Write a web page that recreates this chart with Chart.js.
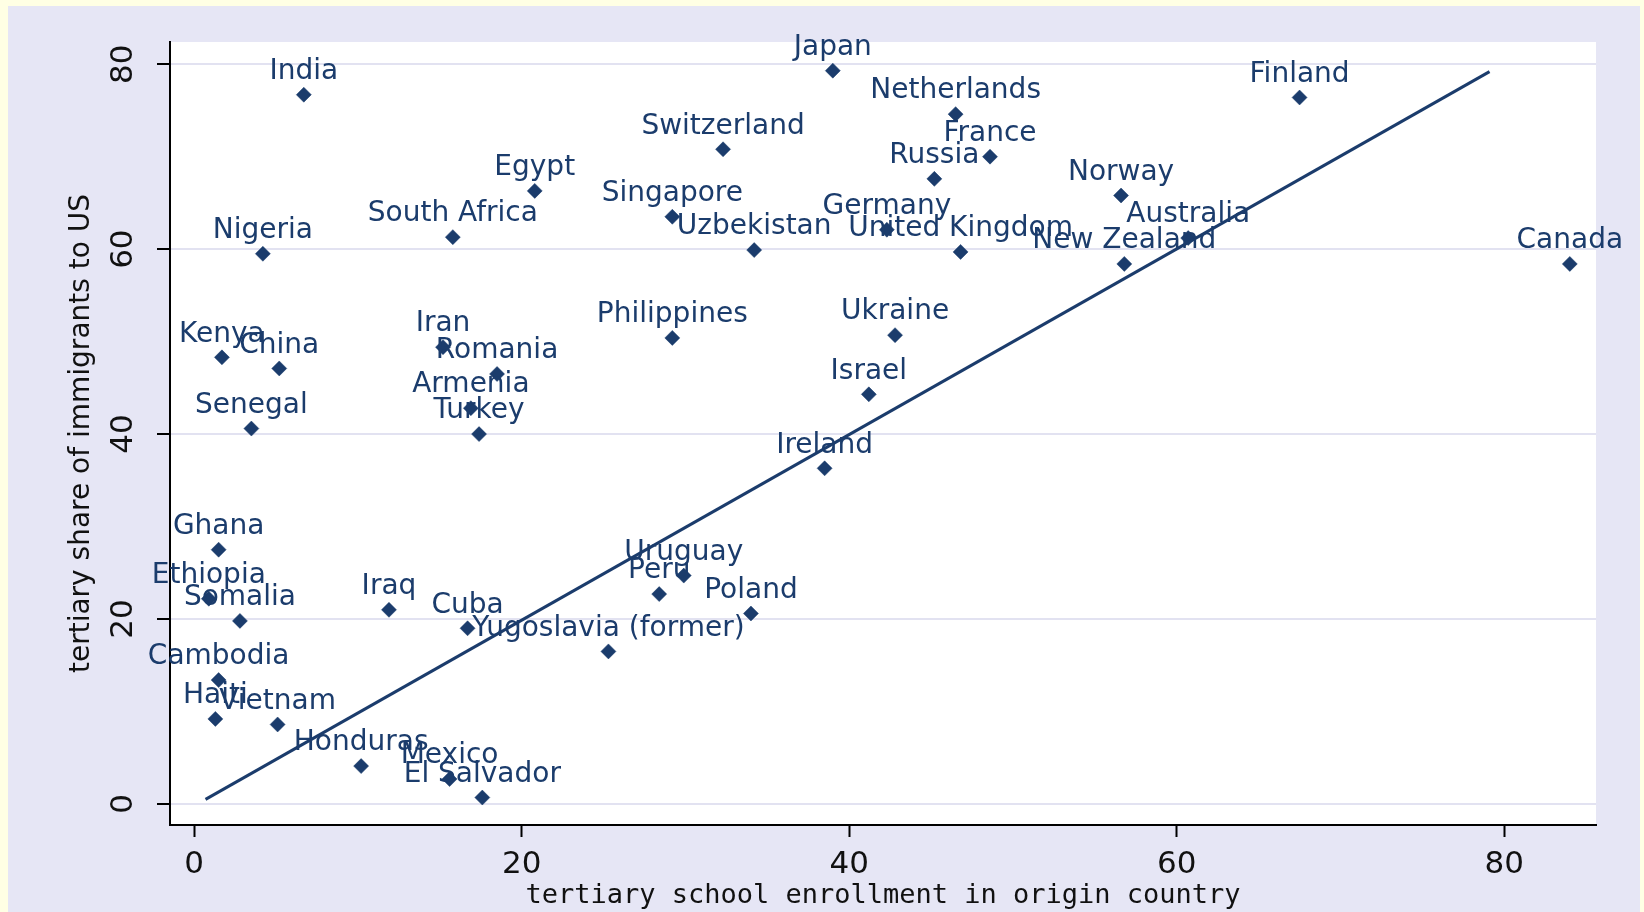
<!DOCTYPE html>
<html lang="en">
<head>
  <meta charset="UTF-8">
  <title>Tertiary enrollment vs share of immigrants</title>
  <script src="https://cdn.jsdelivr.net/npm/chart.js"></script>
  <style>
    html, body { margin: 0; padding: 0; background: #ffffe4; }
    .panel { position: absolute; left: 8px; top: 6px; width: 1632px; height: 906px; background: #e6e6f5; }
  </style>
</head>
<body>
  <div class="panel">
    <canvas id="chart"></canvas>
  </div>

  <script>
    const countries = ['India', 'Japan', 'Netherlands', 'Finland', 'Switzerland', 'France', 'Russia', 'Egypt',
      'Norway', 'Singapore', 'Germany', 'South Africa', 'Uzbekistan', 'United Kingdom', 'Nigeria', 'New Zealand',
      'Australia', 'Canada', 'Philippines', 'Ukraine', 'Iran', 'Kenya', 'China', 'Romania', 'Israel', 'Armenia',
      'Senegal', 'Turkey', 'Ireland', 'Ghana', 'Uruguay', 'Peru', 'Ethiopia', 'Iraq', 'Poland', 'Somalia', 'Cuba',
      'Yugoslavia (former)', 'Cambodia', 'Haiti', 'Vietnam', 'Honduras', 'Mexico', 'El Salvador'];
    // tertiary school enrollment in origin country
    const enrollment = [6.7, 39.0, 46.5, 67.5, 32.3, 48.6, 45.2, 20.8,
      56.6, 29.2, 42.3, 15.8, 34.2, 46.8, 4.2, 56.8,
      60.7, 84.0, 29.2, 42.8, 15.2, 1.7, 5.2, 18.5, 41.2, 16.9,
      3.5, 17.4, 38.5, 1.5, 29.9, 28.4, 0.9, 11.9, 34.0, 2.8, 16.7,
      25.3, 1.5, 1.3, 5.1, 10.2, 15.6, 17.6];
    // tertiary share of immigrants to US
    const share = [76.7, 79.3, 74.6, 76.4, 70.8, 70.0, 67.6, 66.3,
      65.8, 63.5, 62.1, 61.3, 59.9, 59.7, 59.5, 58.4,
      61.2, 58.4, 50.4, 50.7, 49.4, 48.3, 47.1, 46.5, 44.3, 42.8,
      40.6, 40.0, 36.3, 27.5, 24.7, 22.7, 22.2, 21.0, 20.6, 19.8, 19.0,
      16.5, 13.4, 9.2, 8.6, 4.1, 2.7, 0.7];
    // fitted line end points
    const fitX = [0.7, 79.1];
    const fitY = [0.5, 79.2];
    const xTicks = [0, 20, 40, 60, 80];
    const yTicks = [0, 20, 40, 60, 80];

    const navy = '#1b3c6c';

    const plotBg = {
      id: 'plotBg',
      beforeDraw(chart) {
        const { ctx, chartArea: a } = chart;
        ctx.save();
        ctx.fillStyle = '#ffffff';
        ctx.fillRect(a.left, a.top, a.right - a.left, a.bottom - a.top);
        ctx.restore();
      }
    };

    // country names above each marker
    const pointLabels = {
      id: 'pointLabels',
      afterDatasetsDraw(chart) {
        const { ctx } = chart;
        const meta = chart.getDatasetMeta(1);
        ctx.save();
        ctx.font = '28px "DejaVu Sans"';
        ctx.fillStyle = navy;
        ctx.textAlign = 'center';
        ctx.textBaseline = 'middle';
        meta.data.forEach((pt, i) => {
          ctx.fillText(countries[i], pt.x, pt.y - 23);
        });
        ctx.restore();
      }
    };

    new Chart(document.getElementById('chart'), {
      type: 'scatter',
      data: {
        datasets: [
          {
            type: 'line',
            data: fitX.map((x, i) => ({ x, y: fitY[i] })),
            borderColor: navy,
            borderWidth: 3,
            pointRadius: 0,
            fill: false
          },
          {
            data: enrollment.map((x, i) => ({ x, y: share[i] })),
            pointStyle: 'rectRot',
            pointRadius: 7.5,
            pointHoverRadius: 7.5,
            backgroundColor: navy,
            borderColor: navy,
            borderWidth: 0.5
          }
        ]
      },
      options: {
        responsive: true,
        maintainAspectRatio: false,
        animation: false,
        layout: { padding: { top: 36, right: 44, left: 0, bottom: 0 } },
        plugins: { legend: { display: false }, tooltip: { enabled: false } },
        scales: {
          x: {
            type: 'linear',
            min: -1.47,
            max: 85.6,
            afterBuildTicks: s => { s.ticks = xTicks.map(v => ({ value: v })); },
            afterFit: s => { s.height = 87; },
            grid: { drawOnChartArea: false, tickColor: '#000', tickLength: 12, tickWidth: 2 },
            border: { color: '#000', width: 2 },
            ticks: { color: '#111', font: { family: 'DejaVu Sans', size: 31 }, padding: 9, maxRotation: 0 },
            title: {
              display: true,
              text: 'tertiary school enrollment in origin country',
              color: '#111',
              font: { family: 'DejaVu Sans Mono', size: 27 },
              padding: { top: 0, bottom: 0 }
            }
          },
          y: {
            type: 'linear',
            min: -2.27,
            max: 82.4,
            afterBuildTicks: s => { s.ticks = yTicks.map(v => ({ value: v })); },
            afterFit: s => { s.width = 162; },
            grid: { color: '#e2e2f1', lineWidth: 2, tickColor: '#000', tickLength: 13, tickWidth: 2 },
            border: { color: '#000', width: 2 },
            ticks: {
              color: '#111',
              font: { family: 'DejaVu Sans', size: 31 },
              minRotation: 90,
              maxRotation: 90,
              crossAlign: 'center',
              padding: 13
            },
            title: {
              display: true,
              text: 'tertiary share of immigrants to US',
              color: '#111',
              font: { family: 'DejaVu Sans', size: 28 },
              padding: { top: 57, bottom: 0 }
            }
          }
        }
      },
      plugins: [plotBg, pointLabels]
    });
  </script>
</body>
</html>
